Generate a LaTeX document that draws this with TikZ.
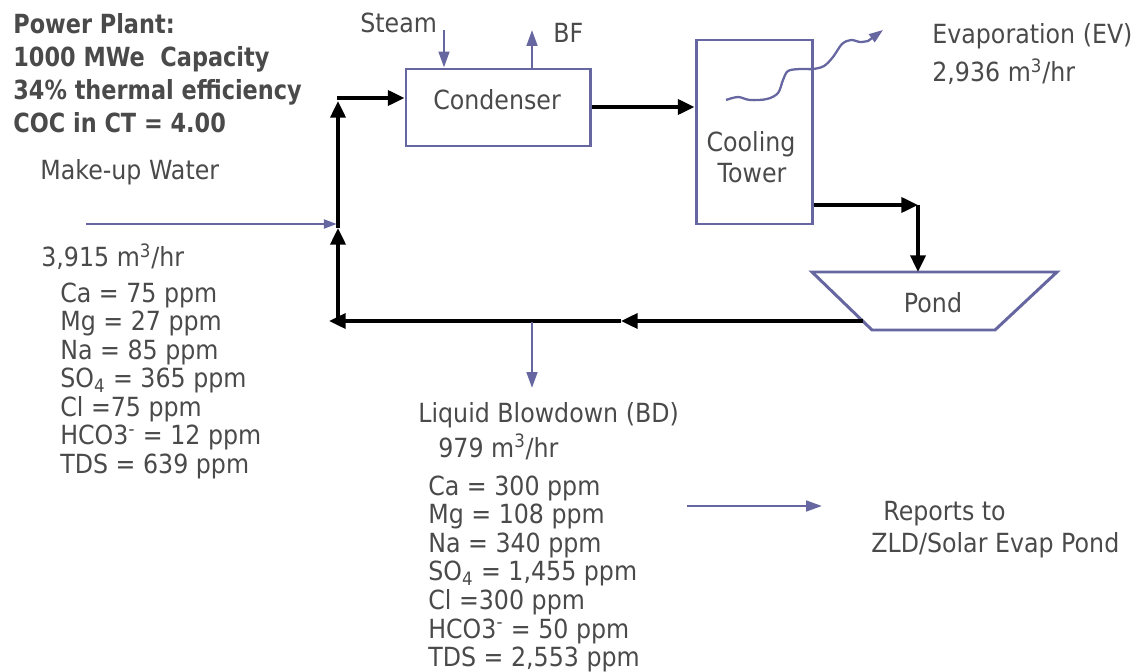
\documentclass[tikz,border=0pt]{standalone}
\usepackage{fontspec}
\setmainfont{DejaVu Sans}[FakeStretch=0.9]
\newfontfamily\titlefont{DejaVu Sans}[FakeStretch=0.85]
\usetikzlibrary{arrows.meta}
\definecolor{txtc}{HTML}{4A4A4A}
\definecolor{pur}{HTML}{6666A0}
\tikzset{
  lbl/.style={text=txtc, font=\fontsize{15}{18}\selectfont, inner sep=0pt, anchor=base west},
  ttl/.style={lbl, font=\titlefont\bfseries\fontsize{15}{18}\selectfont},
  box/.style={draw=pur, line width=1.7pt, inner sep=0pt},
  blk/.style={black, line width=2.2pt, -{Triangle[length=9.5pt,width=8.5pt]}},
  pline/.style={pur, line width=1.5pt, -{Triangle[length=9pt,width=6pt]}},
  psmall/.style={pur, line width=1.5pt, -{Triangle[length=7.5pt,width=5pt]}},
}
\begin{document}
\begin{tikzpicture}[x=0.02cm,y=-0.02cm]
\useasboundingbox (0,0) rectangle (1139,672);

% title
\node[ttl] (t1) at (13,34) {Power Plant:};
\node[ttl] (t2) at (13,67) {1000 MWe\ \ Capacity};
\node[ttl] (t3) at (13,100) {34\% thermal efficiency};
\node[ttl] (t4) at (13,133) {COC in CT = 4.00};

\node[lbl] (mw) at (40,180) {Make-up Water};
\node[lbl] (mwq) at (41,267) {3,915 m\textsuperscript{3}/hr};
\foreach \t [count=\i from 0] in {{Ca = 75 ppm},{Mg = 27 ppm},{Na = 85 ppm},{SO\textsubscript{4} = 365 ppm},{Cl =75 ppm},{HCO3\textsuperscript{-} = 12 ppm},{TDS = 639 ppm}}
  \node[lbl] (l1\i) at (60,{302+28.5*\i}) {\t};

% boxes
\node[box, minimum width=184*0.02cm, minimum height=77*0.02cm] (cond) at (498,107.5) {};
\node[lbl, anchor=base] (condt) at (497,110) {Condenser};
\node[box, minimum width=116*0.02cm, minimum height=184*0.02cm] (ct) at (754,132) {};
\node[lbl, anchor=base] (ctt1) at (751,152) {Cooling};
\node[lbl, anchor=base] (ctt2) at (752,183) {Tower};

% pond
\coordinate (p1) at (812,272);
\coordinate (p2) at (1057,272);
\coordinate (p3) at (995,330);
\coordinate (p4) at (872,330);
\draw[pur, line width=1.7pt, line join=miter] (p1) -- (p2) -- (p3) -- (p4) -- cycle;
\node[lbl, anchor=base] (pondt) at (933,312) {Pond};

% steam & BF
\node[lbl] (steam) at (360,33) {Steam};
\coordinate (st0) at (444,30);
\draw[pline] (st0) -- (cond.north -| st0);
\coordinate (bf0) at (532,30);
\draw[pline] (cond.north -| bf0) -- (bf0);
\node[lbl] (bf) at (553,43) {BF};

% evaporation
\node[lbl] (ev) at (932,44) {Evaporation (EV)};
\node[lbl] (evq) at (932,82) {2,936 m\textsuperscript{3}/hr};
\coordinate (evend) at (883,30);
\draw[pur, line width=1.3pt, -{Triangle[length=8pt,width=5.5pt]}]
  plot[smooth, tension=0.55] coordinates {(726,100) (738,97) (750,100) (767,99) (778,93) (783,80) (788,71) (800,69) (813,69) (824,66) (833,57) (842,44) (851,40) (860,42) (868,41)} -- (evend);

% main black loop
\coordinate (c1) at (cond.east |- 0,107);
\draw[blk] (c1) -- (ct.west |- c1);
\coordinate (ctx) at (ct.east |- 0,205);
\coordinate (pk) at (918,205);
\draw[blk] (ctx) -- (pk);
\draw[blk] (pk) -- (p1 -| pk);
\coordinate (pl) at (863,321);
\coordinate (mid) at (621,321);
\coordinate (lft) at (329,321);
\draw[blk] (pl) -- (mid);
\draw[blk] (mid) -- (lft);
\coordinate (v0) at (338,321);
\coordinate (v1) at (338,228);
\coordinate (v2) at (338,101);
\draw[blk] (v0) -- (v1);
\draw[blk] (v1) -- (v2);
\coordinate (h0) at (337,98);
\draw[blk] (h0) -- (cond.west |- h0);

% make-up water line
\coordinate (mu0) at (86,224);
\coordinate (mu1) at (337,224);
\draw[psmall] (mu0) -- (mu1);

% blowdown
\coordinate (bd0) at (532,322);
\coordinate (bd1) at (532,388);
\draw[pline] (bd0) -- (bd1);
\node[lbl] (bd) at (418,422) {Liquid Blowdown (BD)};
\node[lbl] (bdq) at (438,457) {979 m\textsuperscript{3}/hr};
\foreach \t [count=\i from 0] in {{Ca = 300 ppm},{Mg = 108 ppm},{Na = 340 ppm},{SO\textsubscript{4} = 1,455 ppm},{Cl =300 ppm},{HCO3\textsuperscript{-} = 50 ppm},{TDS = 2,553 ppm}}
  \node[lbl] (l2\i) at (428,{495+28.6*\i}) {\t};

% reports
\coordinate (r0) at (687,506);
\coordinate (r1) at (822,506);
\draw[pline] (r0) -- (r1);
\node[lbl] (rep1) at (883,520) {Reports to};
\node[lbl] (rep2) at (871,552) {ZLD/Solar Evap Pond};
\end{tikzpicture}
\end{document}
